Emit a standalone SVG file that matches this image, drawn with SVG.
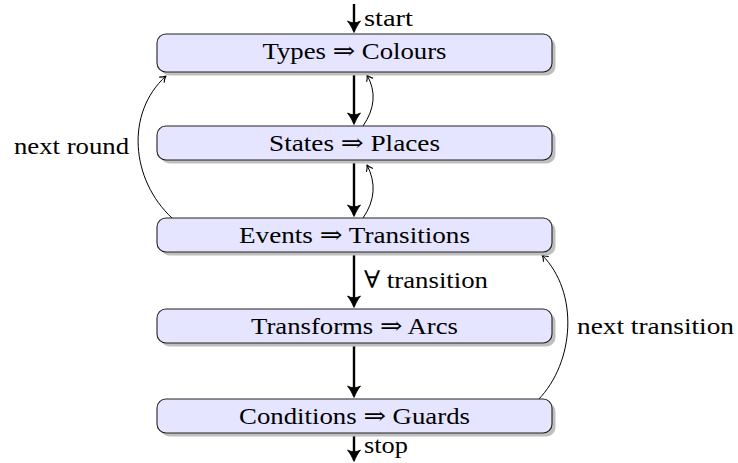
<svg xmlns="http://www.w3.org/2000/svg" width="738" height="463" viewBox="0 0 738 463">
  <defs>
    <style>
      .box { fill: #e5e5ff; stroke: #222; stroke-width: 1.1; }
      .shadow { fill: #bfbfbf; stroke: none; }
      text { font-family: 'Liberation Serif', 'DejaVu Serif', serif; font-size: 24px; fill: #000; }
      .thick { fill: none; stroke: #000; stroke-width: 2.4; marker-end: url(#big); }
      .thin { fill: none; stroke: #000; stroke-width: 1; marker-end: url(#small); }
    </style>
    <marker id="big" markerUnits="userSpaceOnUse" viewBox="-13 -8 15 16" refX="0" refY="0" markerWidth="15" markerHeight="16" orient="auto" overflow="visible">
      <path d="M 1.5 0 C -2.5 -1.6 -6.5 -3.8 -10 -6.5 Q -6.5 0 -10 6.5 C -6.5 3.8 -2.5 1.6 1.5 0 Z" fill="#000" stroke="#000" stroke-width="0.8" stroke-linejoin="round"/>
    </marker>
    <marker id="small" markerUnits="userSpaceOnUse" viewBox="-8 -5 10 10" refX="0" refY="0" markerWidth="10" markerHeight="10" orient="auto" overflow="visible">
      <path d="M -5.5 -3.4 Q -2.5 -0.7 0 0 Q -2.5 0.7 -5.5 3.4" fill="none" stroke="#000" stroke-width="1.1" stroke-linecap="round" stroke-linejoin="round"/>
    </marker>
  </defs>

  <g id="connectors">
    <path class="thick" d="M 354 4 L 354 31"/>
    <path class="thick" d="M 354 72 L 354 123"/>
    <path class="thick" d="M 354 160 L 354 215"/>
    <path class="thick" d="M 354 252 L 354 306"/>
    <path class="thick" d="M 354 343 L 354 396"/>
    <path class="thick" d="M 354 433 L 354 460"/>
    <path class="thin" d="M 363 126 Q 381 100 367 75"/>
    <path class="thin" d="M 363 218 Q 381 192 367 165"/>
    <path class="thin" d="M 172 218 C 131 180 125 113 166 76"/>
    <path class="thin" d="M 538 400 C 575 362 579 292 542 255"/>
    <text x="364" y="26" textLength="49" lengthAdjust="spacingAndGlyphs">start</text>
    <text x="364" y="453" textLength="44" lengthAdjust="spacingAndGlyphs">stop</text>
    <text x="364" y="288" textLength="124" lengthAdjust="spacingAndGlyphs">∀ transition</text>
    <text x="129" y="154" text-anchor="end" textLength="115" lengthAdjust="spacingAndGlyphs">next round</text>
    <text x="577" y="334" textLength="157" lengthAdjust="spacingAndGlyphs">next transition</text>
  </g>

  <g id="types">
    <rect class="shadow" x="160.5" y="37.5" width="395" height="38" rx="9"/>
    <rect class="box" x="157" y="34" width="395" height="38" rx="9"/>
    <text x="354.5" y="59.3" text-anchor="middle" textLength="184" lengthAdjust="spacingAndGlyphs">Types ⇒ Colours</text>
  </g>
  <g id="states">
    <rect class="shadow" x="160.5" y="129.5" width="395" height="34" rx="9"/>
    <rect class="box" x="157" y="126" width="395" height="34" rx="9"/>
    <text x="354.5" y="151" text-anchor="middle" textLength="171" lengthAdjust="spacingAndGlyphs">States ⇒ Places</text>
  </g>
  <g id="events">
    <rect class="shadow" x="160.5" y="221.5" width="395" height="34" rx="9"/>
    <rect class="box" x="157" y="218" width="395" height="34" rx="9"/>
    <text x="354.5" y="243" text-anchor="middle" textLength="231" lengthAdjust="spacingAndGlyphs">Events ⇒ Transitions</text>
  </g>
  <g id="transforms">
    <rect class="shadow" x="160.5" y="312.5" width="395" height="34" rx="9"/>
    <rect class="box" x="157" y="309" width="395" height="34" rx="9"/>
    <text x="354.5" y="334" text-anchor="middle" textLength="207" lengthAdjust="spacingAndGlyphs">Transforms ⇒ Arcs</text>
  </g>
  <g id="conditions">
    <rect class="shadow" x="160.5" y="402.5" width="395" height="34" rx="9"/>
    <rect class="box" x="157" y="399" width="395" height="34" rx="9"/>
    <text x="354.5" y="424" text-anchor="middle" textLength="231" lengthAdjust="spacingAndGlyphs">Conditions ⇒ Guards</text>
  </g>
</svg>
